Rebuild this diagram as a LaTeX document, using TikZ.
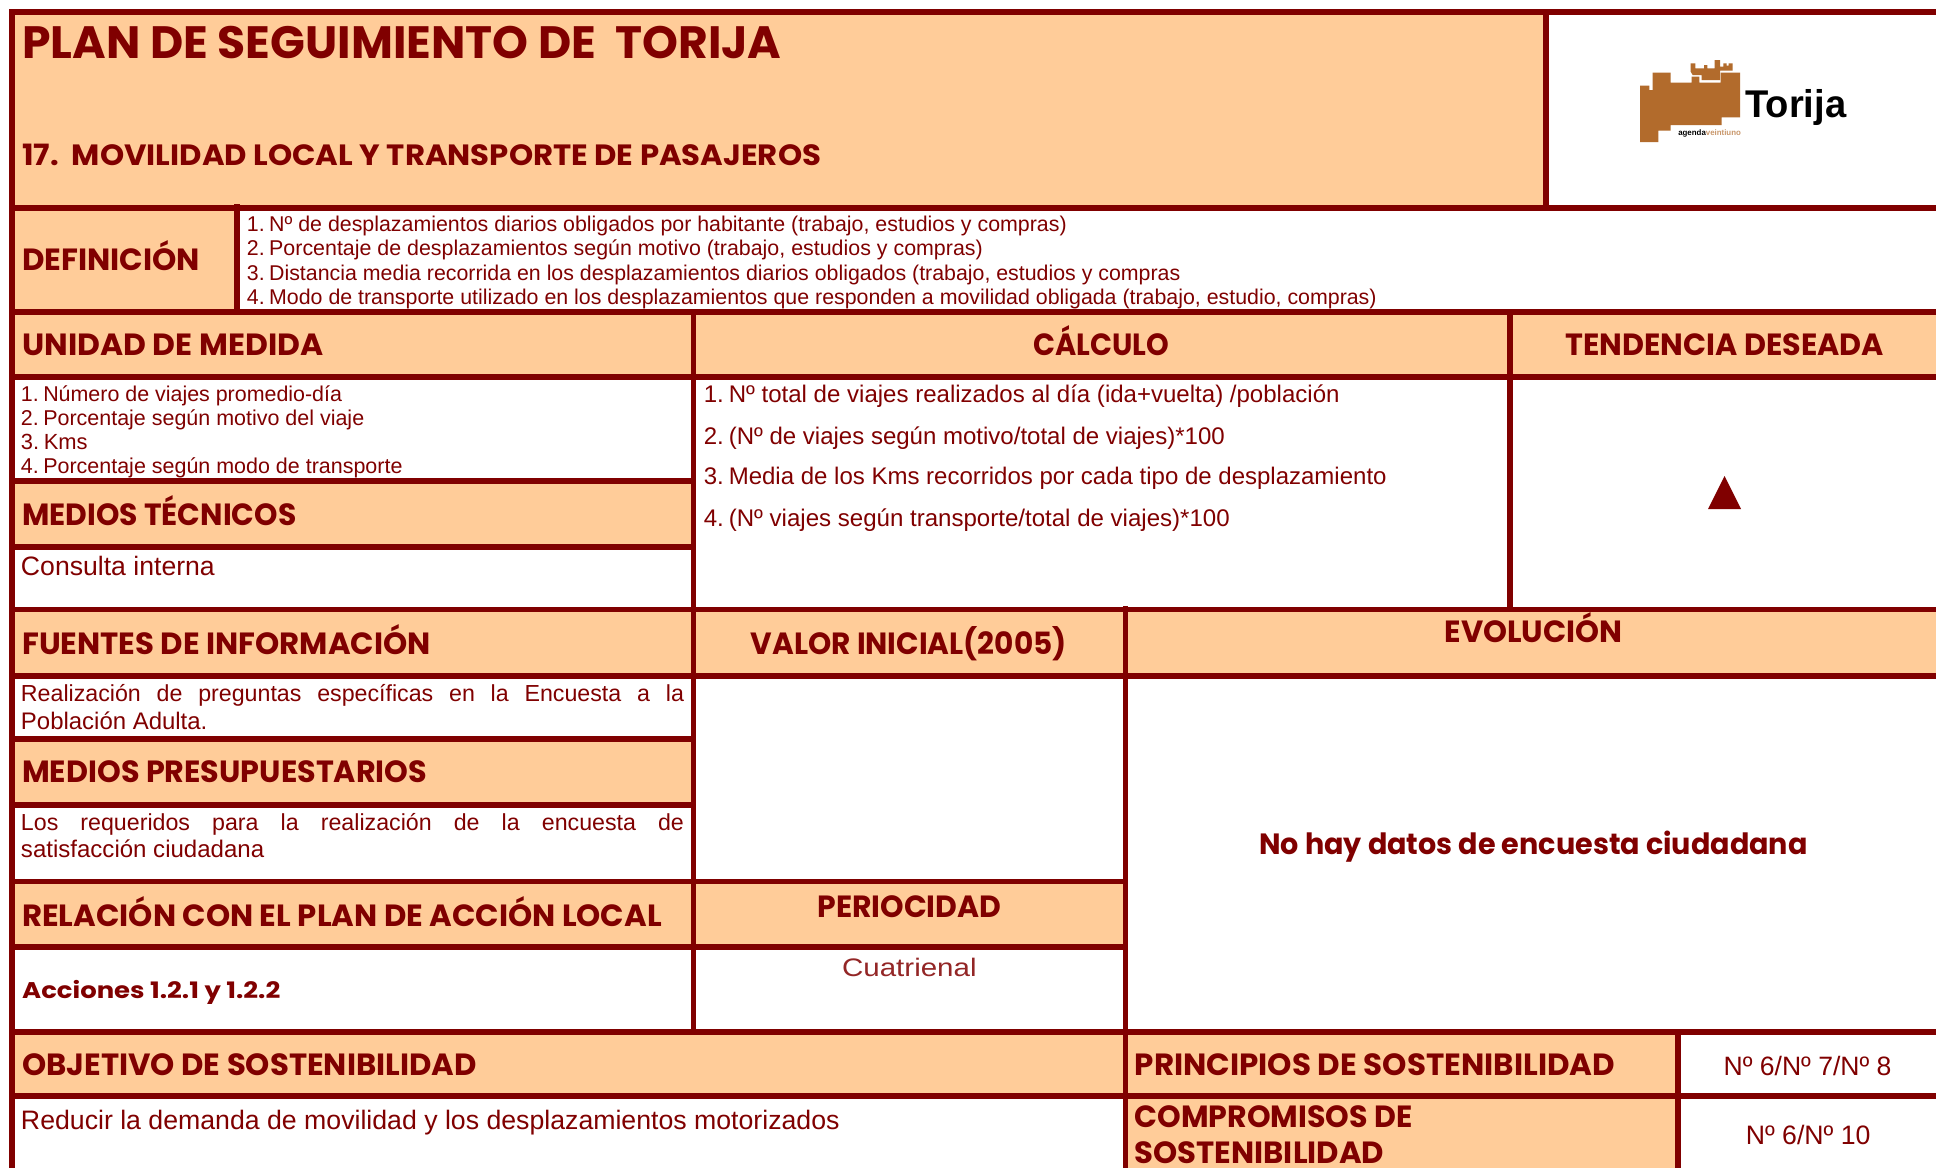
\documentclass[tikz,border=0pt]{standalone}
\usepackage{fontspec}
\usepackage{graphicx}
\setmainfont{Liberation Sans}
\newfontfamily\hdf{Poppins}
\definecolor{mar}{HTML}{800000}
\definecolor{ora}{HTML}{FFCC99}
\definecolor{brn}{HTML}{B26B2C}
\newlength\tmpw
\newcommand\PK{1.2347}
\newcommand\kn{\kern-.07em\ }
\tikzset{txt/.style={anchor=base west,inner sep=0pt,outer sep=0pt,text=mar}}
% heading: name x1 x2 baseline size text (reference coordinates at 1568 wide)
\newcommand\HDG[6]{\pgfmathsetlength{\tmpw}{(#3-#2)*\PK*0.75}%
 \node[txt,font=\hdf\bfseries\fontsize{#5}{#5}\selectfont] (#1) at ({#2*\PK},{#4*\PK}) {\resizebox{\tmpw}{\height}{#6}};}
% body: uniform scaling to width
\newcommand\BDY[5]{\pgfmathsetlength{\tmpw}{(#3-#2)*\PK*0.75}%
 \node[txt,font=\fontsize{16}{16}\selectfont] (#1) at ({#2*\PK},{(#4+0.8)*\PK}) {\resizebox{\tmpw}{!}{#5}};}
% justified line
\newcommand\JST[5]{\pgfmathsetlength{\tmpw}{(#3-#2)*\PK*0.75}%
 \node[txt,font=\fontsize{17.4}{17.4}\selectfont] (#1) at ({#2*\PK},{(#4+0.5)*\PK}) {\hbox to \tmpw{#5}};}
\newcommand\BX[4]{\fill (#1,#3) rectangle (#2,#4);}
\begin{document}
\begin{tikzpicture}[x=0.75pt,y=-0.75pt]
\useasboundingbox (0,0) rectangle (1936,1168);
\fill[white] (0,0) rectangle (1936,1168);
% orange regions
\begin{scope}[ora]
\BX{10}{1546}{10}{208}
\BX{10}{237}{208}{312}
\BX{10}{1936}{312}{378}
\BX{10}{693}{480}{548}
\BX{10}{1936}{610}{676}
\BX{10}{693}{738}{805}
\BX{10}{1125}{880}{947}
\BX{10}{1678}{1031}{1096}
\BX{1125}{1678}{1096}{1168}
\end{scope}
% rules
\begin{scope}[mar]
\BX{9}{15}{9}{1168}
\BX{9}{1936}{9}{15}
\BX{9}{1936}{205}{211}
\BX{9}{1936}{309}{315}
\BX{9}{1936}{374}{380}
\BX{9}{693}{478}{484}
\BX{9}{693}{544}{550}
\BX{9}{1936}{607}{612}
\BX{9}{1936}{673}{679}
\BX{9}{693}{736}{742}
\BX{9}{693}{802}{808}
\BX{9}{1125}{879}{884}
\BX{9}{1125}{944}{950}
\BX{9}{1936}{1029}{1035}
\BX{9}{1936}{1093}{1099}
\BX{1543}{1549}{10}{208}
\BX{234}{240}{204}{312}
\BX{690.5}{696}{309}{1031}
\BX{1507}{1513}{309}{612}
\BX{1122.5}{1128}{606}{1168}
\BX{1675}{1681}{1030}{1168}
\fill (1708,509) -- (1724.5,476) -- (1741,509) -- cycle;
\end{scope}
% logo
\begin{scope}[shift={(1500,0)},x=0.25pt,y=-0.25pt]
\fill[brn] (420,257) -- (448,257) -- (448,270) -- (458,270) -- (458,218) -- (512,218) -- (512,248) -- (575,248) -- (575,230) -- (598,230) -- (598,248) -- (662,248) -- (662,218) -- (720,218) -- (720,352) -- (665,352) -- (665,375) -- (512,375) -- (512,392) -- (475,392) -- (475,426) -- (420,426) -- cycle;
\fill[brn] (572,190) -- (586,190) -- (586,205) -- (612,205) -- (612,195) -- (622,195) -- (622,205) -- (644,205) -- (644,180) -- (660,180) -- (660,200) -- (670,200) -- (670,190) -- (680,190) -- (680,197) -- (686,197) -- (686,190) -- (698,190) -- (698,212) -- (660,212) -- (660,240) -- (605,240) -- (605,225) -- (578,225) -- (572,215) -- cycle;
\end{scope}
\node[anchor=base west,inner sep=0pt,font=\bfseries\fontsize{29}{29}\selectfont,text=black] (logoT) at (1745,117) {\resizebox{75.75pt}{\height}{Torija}};
\node[anchor=base west,inner sep=0pt,font=\bfseries\fontsize{6}{6}\selectfont] (logoA) at (1678,135) {\resizebox{47pt}{\height}{\textcolor{black}{agenda}\textcolor{brn!70}{veintiuno}}};
% headings
\HDG{h1}{18}{633}{47}{34}{PLAN DE SEGUIMIENTO DE\ \ TORIJA}
\HDG{h2}{18}{665}{134}{22}{17.\ \ MOVILIDAD LOCAL Y TRANSPORTE DE PASAJEROS}
\HDG{h3}{18}{162}{219}{23}{DEFINICIÓN}
\HDG{h4}{18}{262}{288}{23}{UNIDAD DE MEDIDA}
\HDG{h5}{837}{947}{288}{23}{CÁLCULO}
\HDG{h6}{1268}{1526}{288}{23}{TENDENCIA DESEADA}
\HDG{h7}{18}{240}{426}{23}{MEDIOS TÉCNICOS}
\HDG{h8}{18}{349}{530}{23}{FUENTES DE INFORMACIÓN}
\HDG{h9}{608}{864}{530}{23}{VALOR INICIAL(2005)}
\HDG{h10}{1170}{1314}{520}{23}{EVOLUCIÓN}
\HDG{h11}{18}{346}{634}{23}{MEDIOS PRESUPUESTARIOS}
\HDG{h12}{18}{536}{750}{23}{RELACIÓN CON EL PLAN DE ACCIÓN LOCAL}
\HDG{h13}{662}{811}{743}{23}{PERIOCIDAD}
\HDG{h14}{18}{227}{809}{17}{Acciones 1.2.1 y 1.2.2}
\HDG{h15}{18}{386}{871}{23}{OBJETIVO DE SOSTENIBILIDAD}
\HDG{h16}{919}{1308}{871}{23}{PRINCIPIOS DE SOSTENIBILIDAD}
\HDG{h17}{919}{1144}{913}{23}{COMPROMISOS DE}
\HDG{h18}{919}{1121}{942}{23}{SOSTENIBILIDAD}
\HDG{h19}{1020}{1464}{692}{22}{No hay datos de encuesta ciudadana}
% body
\BDY{d1}{200}{864}{187}{1.\kn Nº de desplazamientos diarios obligados por habitante (trabajo, estudios y compras)}
\BDY{d2}{200}{796}{206.5}{2.\kn Porcentaje de desplazamientos según motivo (trabajo, estudios y compras)}
\BDY{d3}{200}{956}{226}{3.\kn Distancia media recorrida en los desplazamientos diarios obligados (trabajo, estudios y compras}
\BDY{d4}{200}{1115}{246}{4.\kn Modo de transporte utilizado en los desplazamientos que responden a movilidad obligada (trabajo, estudio, compras)}
\BDY{u1}{17}{277}{324}{1.\kn Número de viajes promedio-día}
\BDY{u2}{17}{295}{343.5}{2.\kn Porcentaje según motivo del viaje}
\BDY{u3}{17}{71}{363}{3.\kn Kms}
\BDY{u4}{17}{326}{383}{4.\kn Porcentaje según modo de transporte}
\BDY{m1}{17}{174}{465}{Consulta interna}
\BDY{c1}{570}{1085}{325}{1.\kn Nº total de viajes realizados al día (ida+vuelta) /población}
\BDY{c2}{570}{992}{359}{2.\kn (Nº de viajes según motivo/total de viajes)*100}
\BDY{c3}{570}{1123}{392}{3.\kn Media de los Kms recorridos por cada tipo de desplazamiento}
\BDY{c4}{570}{996}{426}{4.\kn (Nº viajes según transporte/total de viajes)*100}
\JST{f1}{17}{554}{568}{Realización de preguntas específicas en la Encuesta a la}
\BDY{f2}{17}{168}{590}{Población Adulta.}
\JST{p1}{17}{554}{672}{Los requeridos para la realización de la encuesta de}
\BDY{p2}{17}{214}{694}{satisfacción ciudadana}
\pgfmathsetlength{\tmpw}{109*\PK*0.75}
\node[txt,text=mar!85,font=\fontsize{19}{19}\selectfont] (per) at ({682*\PK},{791*\PK}) {\resizebox{\tmpw}{\height}{Cuatrienal}};
\BDY{o1}{17}{680}{914}{Reducir la demanda de movilidad y los desplazamientos motorizados}
\BDY{n1}{1396}{1532}{870}{Nº 6/Nº 7/Nº 8}
\BDY{n2}{1414}{1515}{926}{Nº 6/Nº 10}
\end{tikzpicture}
\end{document}
